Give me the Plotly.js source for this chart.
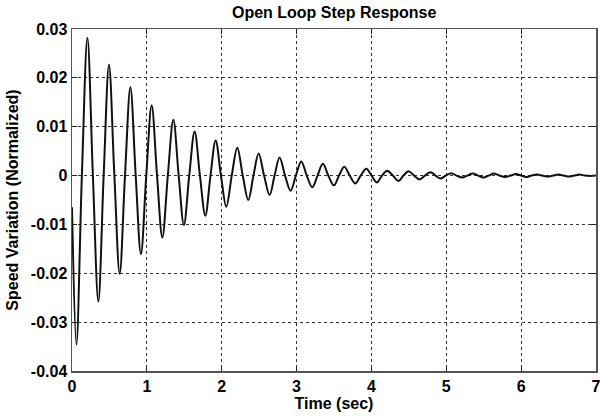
<!DOCTYPE html>
<html>
<head>
<meta charset="utf-8">
<script src="https://cdn.plot.ly/plotly-3.0.1.min.js"></script>
<style>
  html, body { margin: 0; padding: 0; background: #fff; }
  #chart { width: 600px; height: 416px; }
</style>
</head>
<body>
<div id="chart"></div>
<script>
// Open-loop step response of the speed variation.
// Turning points (peaks / troughs) of the damped oscillation:
const peakTime = [
  0.000, 0.059, 0.206, 0.352, 0.494, 0.637, 0.780, 0.921, 1.064, 1.207,
  1.354, 1.495, 1.638, 1.781, 1.919, 2.061, 2.208, 2.355, 2.493, 2.640,
  2.773, 2.920, 3.063, 3.210, 3.351, 3.498, 3.637, 3.784, 3.931, 4.072,
  4.211, 4.362, 4.495, 4.642, 4.789, 4.923, 5.065, 5.210, 5.354, 5.497,
  5.634, 5.786, 5.933, 6.067, 6.214, 6.355, 6.498, 6.636, 6.778, 6.920,
  7.000
];
const peakValue = [
  -0.0065, -0.0346, 0.0282, -0.0258, 0.0227, -0.0201, 0.0181, -0.0161, 0.0144, -0.0127,
  0.0114, -0.0101, 0.0090, -0.0082, 0.0072, -0.0064, 0.0057, -0.0050, 0.0045, -0.0040,
  0.0037, -0.0031, 0.0029, -0.0024, 0.0024, -0.0020, 0.0018, -0.0016, 0.0014, -0.0014,
  0.0010, -0.0011, 0.0009, -0.0008, 0.0007, -0.0006, 0.0005, -0.0004, 0.0004, -0.0004,
  0.0004, -0.0003, 0.0003, -0.0003, 0.0002, -0.0002, 0.0002, -0.0002, 0.0002, -0.0001,
  0.0000
];
// Times where the response crosses zero between turning points
const zeroCrossTime = [
  0.132, 0.279, 0.423, 0.566, 0.708, 0.851, 0.992, 1.136, 1.280, 1.425,
  1.566, 1.709, 1.850, 1.990, 2.134, 2.281, 2.424, 2.566, 2.706, 2.846,
  2.991, 3.136, 3.280, 3.424, 3.567, 3.710, 3.857, 4.001, 4.141, 4.286,
  4.428, 4.568, 4.715, 4.856, 4.994, 5.137, 5.282, 5.425, 5.565, 5.710,
  5.859, 6.000, 6.140, 6.284, 6.426, 6.567, 6.707, 6.849
];

const xTickVals = [0, 1, 2, 3, 4, 5, 6, 7];
const xTickText = ['0', '1', '2', '3', '4', '5', '6', '7'];
const yTickVals = [0.03, 0.02, 0.01, 0, -0.01, -0.02, -0.03, -0.04];
const yTickText = ['0.03', '0.02', '0.01', '0', '-0.01', '-0.02', '-0.03', '-0.04'];

const FONT = 'Liberation Sans, Arial, Helvetica, sans-serif';

// merge turning points and zero crossings into one time-ordered series
const pts = peakTime.map((t, i) => [t, peakValue[i]])
  .concat(zeroCrossTime.map(t => [t, 0]))
  .sort((a, b) => a[0] - b[0]);

const trace = {
  x: pts.map(p => p[0]),
  y: pts.map(p => p[1]),
  type: 'scatter',
  mode: 'lines',
  line: { color: '#111', width: 2, shape: 'spline', smoothing: 1 },
  hoverinfo: 'x+y'
};

const axisCommon = {
  showline: true,
  mirror: 'ticks',
  linecolor: '#555',
  linewidth: 1.5,
  ticks: 'inside',
  ticklen: 5,
  tickcolor: '#222',
  showgrid: true,
  gridcolor: '#333',
  gridwidth: 1,
  griddash: 'dot',
  zeroline: false,
  ticklabeloverflow: 'allow',
  tickfont: { family: FONT, size: 16, color: '#000', weight: 'bold' }
};

const layout = {
  width: 600,
  height: 416,
  paper_bgcolor: '#fff',
  plot_bgcolor: '#fff',
  margin: { l: 72, r: 4, t: 29, b: 45 },
  showlegend: false,
  title: {
    text: '<b>Open Loop Step Response</b>',
    font: { family: FONT, size: 16, color: '#000' },
    x: 0.557, xanchor: 'center',
    y: 0.97, yanchor: 'middle', yref: 'container'
  },
  xaxis: Object.assign({}, axisCommon, {
    range: [0, 7],
    tickvals: xTickVals,
    ticktext: xTickText,
    title: { text: '<b>Time (sec)</b>', font: { family: FONT, size: 16, color: '#000' }, standoff: 4 }
  }),
  yaxis: Object.assign({}, axisCommon, {
    range: [-0.04, 0.03],
    tickvals: yTickVals,
    ticktext: yTickText,
    title: { text: '<b>Speed Variation (Normalized)</b>', font: { family: FONT, size: 16, color: '#000' }, standoff: 8 }
  })
};

Plotly.newPlot('chart', [trace], layout, { displayModeBar: false, staticPlot: true });
</script>
</body>
</html>
